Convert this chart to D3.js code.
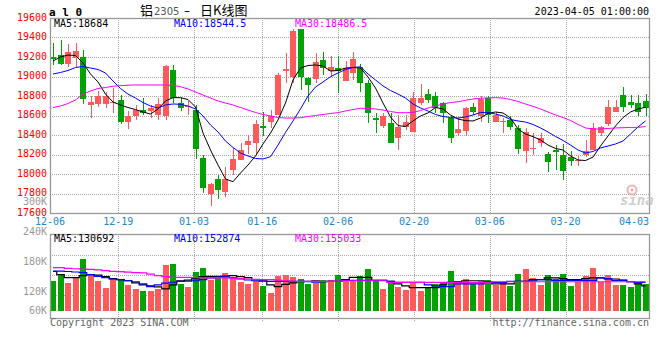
<!DOCTYPE html>
<html><head><meta charset="utf-8">
<script src="https://cdn.jsdelivr.net/npm/d3@7"></script>
<style>body{margin:0;background:#fff}svg{display:block}text{font-family:"DejaVu Sans Mono",monospace}</style>
</head><body><svg id="c" width="660" height="360"></svg>
<script>
const dateLabels=["12-06","12-19","01-03","01-16","02-06","02-20","03-06","03-20","04-03"];
const dateIndex=[0,9,19,28,38,48,58,68,78];
const gridDateIndex=[9,19,28,38,48,58,68];
const open=[19195,19225,19130,19185,19200,18710,18720,18720,18730,18760,18530,18590,18655,18650,18610,18590,19065,18730,18685,18655,18165,17790,17950,17820,18040,18145,18295,18315,18490,18535,18605,19055,19000,19485,18980,18975,19170,19055,19085,18955,19035,19100,18930,18575,18495,18520,18365,18485,18435,18725,18820,18795,18725,18570,18420,18445,18685,18590,18775,18535,18530,18555,18470,18240,18260,18320,18205,18245,18195,18175,18140,18195,18245,18420,18515,18640,18810,18740,18725,18750];
const high=[19345,19375,19335,19340,19270,18795,18855,18845,18885,18815,18645,18710,18775,18710,18775,19120,19120,18785,18750,18710,18195,17910,17990,18075,18265,18315,18400,18555,18635,18655,19035,19240,19490,19485,19000,19240,19255,19215,19215,19160,19250,19130,18965,18625,18625,18625,18605,18605,18845,18920,18870,18845,18740,18605,18570,18690,18730,18795,18795,18640,18570,18590,18505,18470,18420,18420,18230,18295,18305,18235,18185,18350,18525,18490,18760,18760,18895,18810,18810,18820];
const low=[19120,19120,19100,19100,18715,18570,18685,18675,18625,18515,18460,18555,18605,18570,18555,18555,18725,18650,18605,18150,17810,17670,17740,17765,17990,18140,18210,18210,18385,18470,18605,18930,18930,18860,18740,18930,19015,18990,18830,18955,18965,18845,18520,18420,18470,18315,18245,18450,18435,18710,18725,18625,18525,18315,18390,18385,18605,18535,18520,18535,18420,18450,18210,18115,18195,18280,18025,18040,17940,18080,18080,18170,18245,18390,18490,18640,18640,18675,18590,18590];
const close=[19180,19130,19250,19260,18770,18735,18800,18800,18740,18535,18600,18655,18625,18680,18715,19110,18775,18680,18700,18255,17855,17895,17835,17950,18155,18245,18340,18515,18475,18590,19015,19075,19465,19000,18915,19150,19090,19095,19055,19090,19180,18930,18625,18555,18590,18315,18485,18535,18775,18775,18760,18675,18630,18365,18460,18675,18640,18765,18605,18605,18545,18485,18255,18435,18265,18370,18125,18225,18035,18135,18145,18235,18470,18480,18690,18685,18690,18710,18640,18675];
const volume=[141500,153800,137400,148300,184600,153800,141500,127200,145600,145600,133300,125100,121000,121000,125100,172300,174400,135400,129200,160000,166100,143600,147700,157900,149700,139500,135400,141500,131300,116900,151800,153800,149700,145600,135400,137400,143600,143600,153800,145600,141500,151800,164100,141500,125100,137400,129200,123100,137400,121000,129200,135400,137400,162000,141500,145600,135400,141500,143600,133300,139500,131300,155900,164100,147700,133300,153800,145600,155900,131300,139500,151800,166100,139500,153800,133300,133300,129200,137400,135400];
const ma5=[19159,19200,19220,19215,19138,19026,18944,18820,18738,18708,18682,18661,18636,18615,18667,18749,18783,18783,18764,18687,18420,18246,18092,17949,17921,18010,18092,18185,18308,18420,18554,18728,18964,19087,19113,19118,19108,19056,19062,19087,19092,19087,18995,18882,18728,18585,18497,18487,18544,18595,18626,18682,18667,18605,18564,18547,18544,18574,18621,18636,18626,18574,18462,18410,18383,18349,18297,18262,18246,18185,18144,18138,18174,18287,18390,18492,18579,18636,18667,18684];
const ma10=[19026,19041,19062,19092,19103,19087,19072,19036,18954,18877,18820,18779,18733,18697,18677,18708,18718,18715,18697,18667,18595,18503,18431,18338,18272,18215,18185,18159,18154,18177,18297,18426,18544,18667,18800,18892,18944,18998,19036,19072,19092,19100,19026,18964,18903,18856,18820,18779,18718,18677,18646,18610,18590,18579,18574,18585,18605,18631,18631,18615,18595,18559,18544,18533,18508,18472,18431,18385,18344,18297,18246,18215,18231,18267,18287,18308,18338,18410,18482,18544.5];
const ma30=[18682,18697,18723,18759,18820,18851,18877,18887,18900,18906,18911,18913,18913,18913,18913,18913,18908,18895,18872,18841,18810,18779,18749,18728,18708,18682,18656,18631,18610,18595,18579,18574,18574,18577,18590,18600,18610,18621,18629,18646,18661,18674,18672,18667,18656,18641,18629,18629,18631,18651,18677,18697,18718,18733,18741,18756,18769,18777,18781,18783,18779,18764,18744,18718,18694,18667,18636,18605,18579,18549,18508,18472,18462,18462,18467,18472,18475,18477,18479,18486.5];
const volMa5=[160000,153800,147700,147700,151800,153800,152800,149700,145600,143600,141500,137400,133300,131300,129200,125100,133300,141500,142600,145600,149700,150400,150400,150800,151800,149700,147700,143600,141500,133300,129800,134400,137400,139500,140500,141500,139500,140100,140100,143600,148300,148300,148300,142200,142200,140100,135400,131300,127800,127800,127800,127800,133300,138100,139500,141500,141500,141500,139500,135400,135400,135400,140100,140100,143600,143600,147100,147100,145600,143600,143600,145600,147100,147100,145000,145000,142600,139500,135400,131300];
const volMa10=[160600,160600,160000,159000,157900,153800,150400,147700,145000,143600,141500,139500,135400,129800,133300,136800,138500,140100,140500,141500,143600,147100,148700,149100,147700,145000,143000,141500,140900,140100,140100,140100,140100,140100,139500,138900,139500,140100,140100,142200,142200,142200,142200,142200,142200,140500,138100,138100,138100,138100,133300,131300,129800,129800,135400,135400,135400,135400,138100,138100,138100,140100,140100,140100,141500,143600,143600,142200,142200,142200,142200,142200,142200,147100,145600,142200,142200,139500,138100,138100];
const volMa30=[167600,167600,166200,165500,164700,164100,163100,161600,160400,159600,158600,157900,157300,154900,151800,149700,148300,148300,148300,147700,147100,147100,147100,147100,146700,145600,145000,144200,143600,143600,142600,141500,140500,140100,140100,140100,140100,140100,140900,141500,141500,141500,141500,141500,141500,138100,138100,138100,138100,138100,138100,138100,138100,138100,138100,138100,138100,138100,138100,139500,139500,139500,139500,139500,139500,139500,139500,139500,139500,139500,139500,139500,139500,139500,139500,139500,139500,139500,139500,139500];
const priceTicks=[19600,19400,19200,19000,18800,18600,18400,18200,18000,17800,17600];
const volTickValues=[300000,240000,180000,120000,60000];
const volTickLabels=["300K","240K","180K","120K","60K"];
const priceMaLabels=["MA5:18684","MA10:18544.5","MA30:18486.5"];
const volMaLabels=["MA5:130692","MA10:152874","MA30:155033"];
const maColors=["#000000","#0000ff","#ff00ff"];

const svg=d3.select("#c");
const L=50,R=649,PT=18,PB=213,VT=234,VB=318;
const x=d3.scaleLinear().domain([0,80]).range([50,650]);
const gx=d3.scaleLinear().domain([0,79]).range([50,649]);
const y=d3.scaleLinear().domain([17600,19600]).range([213,18]);
const yv=d3.scaleLinear().domain([80000,300000]).range([311.5,201.5]);
const gridV=d3.scaleLinear().domain([0,4]).range([235,315]);
const RED="#ff5a5a",GREEN="#02a202",GRID="#a8a8a8";

// grids
const g=svg.append("g");
priceTicks.slice(1,-1).forEach(v=>{
  const yy=Math.round(y(v))+0.5;
  g.append("line").attr("x1",L).attr("x2",R).attr("y1",yy).attr("y2",yy).attr("stroke",GRID).attr("stroke-dasharray","1,1");
});
[1,2,3].forEach(k=>{
  const yy=Math.round(gridV(k))+0.5;
  g.append("line").attr("x1",L).attr("x2",R).attr("y1",yy).attr("y2",yy).attr("stroke",GRID).attr("stroke-dasharray","1,1");
});
gridDateIndex.forEach(i=>{
  const xx=Math.round(gx(i))+0.5;
  g.append("line").attr("x1",xx).attr("x2",xx).attr("y1",PT).attr("y2",PB).attr("stroke",GRID).attr("stroke-dasharray","1,1");
  g.append("line").attr("x1",xx).attr("x2",xx).attr("y1",VT).attr("y2",321).attr("stroke",GRID).attr("stroke-dasharray","1,1");
});

// candles and volume bars
const idx=d3.range(open.length);
const cg=svg.append("g");
idx.forEach(i=>{
  const up=close[i]>=open[i];
  const col=up?RED:GREEN;
  const lx=Math.round(x(i));
  const yh=Math.round(y(high[i])), yl=Math.round(y(low[i]));
  cg.append("rect").attr("x",lx+3).attr("y",yh).attr("width",1).attr("height",Math.max(1,yl-yh)).attr("fill",col);
  const t=Math.round(y(Math.max(open[i],close[i]))), b=Math.round(y(Math.min(open[i],close[i])));
  cg.append("rect").attr("x",lx).attr("y",t).attr("width",6).attr("height",Math.max(1,b-t)).attr("fill",col);
  const vt=Math.round(yv(volume[i]));
  cg.append("rect").attr("x",lx).attr("y",vt).attr("width",6).attr("height",311-vt).attr("fill",col);
});

// MA lines
const pl=d3.line().x((d,i)=>x(i)+3).y(d=>y(d));
[ma5,ma10,ma30].forEach((arr,k)=>{
  svg.append("path").attr("d",pl(arr)).attr("fill","none").attr("stroke",maColors[k]).attr("stroke-width",1);
});
const vl=d3.line().x((d,i)=>x(i)+3).y(d=>yv(d)).curve(d3.curveStep);
[volMa5,volMa10,volMa30].forEach((arr,k)=>{
  svg.append("path").attr("d",vl(arr)).attr("fill","none").attr("stroke",maColors[k]).attr("stroke-width",1.2);
});

// borders
svg.append("rect").attr("x",L+0.5).attr("y",PT+0.5).attr("width",R-L).attr("height",PB-PT).attr("fill","none").attr("stroke","#999").attr("stroke-width",1.3);
svg.append("rect").attr("x",L+0.5).attr("y",VT+0.5).attr("width",R-L).attr("height",VB-VT).attr("fill","none").attr("stroke","#999").attr("stroke-width",1.3);

// price axis labels
priceTicks.forEach(v=>{
  svg.append("text").attr("x",47).attr("y",y(v)+2.5).attr("text-anchor","end").attr("font-size",10).attr("fill","#ff0000").text(v);
});
// volume axis labels
volTickValues.forEach((v,k)=>{
  svg.append("text").attr("x",47).attr("y",Math.min(314,yv(v)+3)).attr("text-anchor","end").attr("font-size",10).attr("fill","#999").text(volTickLabels[k]);
});
// date labels
dateIndex.forEach((i,k)=>{
  const cx=Math.max(48,Math.min(634,gx(i)));
  svg.append("text").attr("x",cx).attr("y",225).attr("text-anchor","middle").attr("font-size",10).attr("fill","#1a86d0").text(dateLabels[k]);
});
// MA headers
const hx=[54,174,295];
priceMaLabels.forEach((s,k)=>svg.append("text").attr("x",hx[k]).attr("y",27).attr("font-size",10).attr("fill",maColors[k]).text(s));
volMaLabels.forEach((s,k)=>svg.append("text").attr("x",hx[k]).attr("y",241.5).attr("font-size",10).attr("fill",maColors[k]).text(s));

// titles
svg.append("text").attr("x",49).attr("y",16).attr("font-size",11).attr("font-weight","bold").attr("fill","#000").text("a l 0");
const tt=svg.append("text").attr("y",15).attr("fill","#000");
tt.append("tspan").attr("x",140).attr("font-family","Noto Sans CJK SC").attr("font-size",13).text("铝");
tt.append("tspan").attr("x",154).attr("font-family","DejaVu Sans").attr("font-size",10).attr("fill","#555").text("2305");
tt.append("tspan").attr("x",184).attr("font-family","DejaVu Sans").attr("font-size",12).text("–");
tt.append("tspan").attr("x",200).attr("font-family","Noto Sans CJK SC").attr("font-size",13).text("日K线图");
svg.append("text").attr("x",649).attr("y",15).attr("text-anchor","end").attr("font-size",10).attr("fill","#000").text("2023-04-05 01:00:00");
svg.append("text").attr("x",50).attr("y",326).attr("font-size",10).attr("fill","#666").text("Copyright 2023 SINA.COM");
svg.append("text").attr("x",649).attr("y",326).attr("text-anchor","end").attr("font-size",10).attr("fill","#666").text("http://finance.sina.com.cn");

// sina watermark
const lg=svg.append("g").attr("opacity",0.8);
lg.append("circle").attr("cx",632).attr("cy",190).attr("r",4.5).attr("fill","none").attr("stroke","#f0a0a0").attr("stroke-width",2);
lg.append("circle").attr("cx",632).attr("cy",190).attr("r",1.5).attr("fill","#e89090");
lg.append("text").attr("x",620).attr("y",205).attr("font-family","DejaVu Sans").attr("font-style","italic").attr("font-weight","bold").attr("font-size",14).attr("fill","#c4c4c4").text("sina");
</script></body></html>
